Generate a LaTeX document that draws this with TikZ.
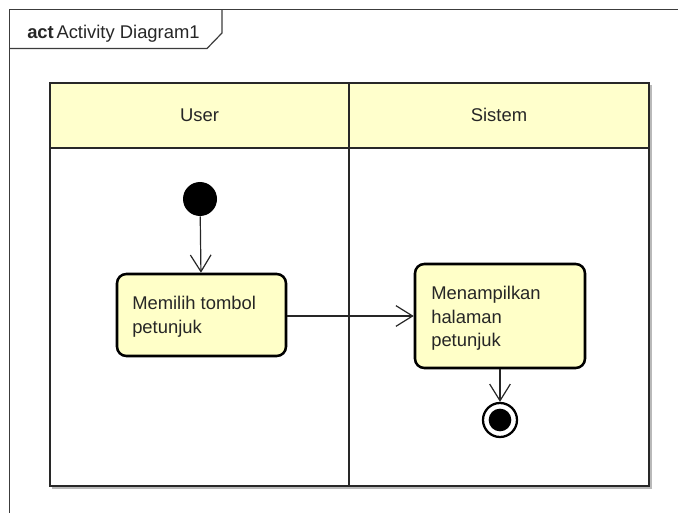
\documentclass[tikz,border=0pt]{standalone}
\usepackage{fontspec}
\setmainfont{Liberation Sans}
\usetikzlibrary{arrows.meta}
\definecolor{lanefill}{RGB}{255,255,204}
\definecolor{actfill}{RGB}{255,255,200}
\definecolor{framecol}{RGB}{60,60,60}
\definecolor{lanecol}{RGB}{40,40,40}
\begin{document}
\begin{tikzpicture}[x=0.75pt,y=-0.75pt,
  font=\fontsize{13.8pt}{17.75pt}\selectfont,
  frameline/.style={draw=framecol, line width=0.9pt},
  laneline/.style={draw=lanecol, line width=0.9pt},
  action/.style={draw=black, fill=actfill, line width=1.9pt, rounded corners=7pt, inner sep=0pt},
  actlabel/.style={anchor=west, align=left, inner sep=0pt, text=black!85},
  flow/.style={draw=black!85, line width=0.9pt, -{Straight Barb[length=12.5pt,width=15.5pt,line width=0.9pt]}},
  initnode/.style={circle, fill=black, minimum size=25.5pt, inner sep=0pt},
]
\useasboundingbox (0,0) rectangle (678,513);
\clip (0,0) rectangle (678,513);

% diagram frame and its name tab
\draw[frameline] (9.5,600) -- (9.5,9.5) -- (700,9.5);
\draw[frameline] (9.5,48.5) -- (207,48.5) -- (222,33) -- (222,9.5);
\node[anchor=base west, inner sep=0pt, text=black!85] (title) at (27,38.5) {\textbf{act}\hspace{2pt}Activity Diagram1};

% swimlanes
\draw[gray!55, line width=1.4pt] (52,488) -- (651,488) -- (651,85);
\fill[lanefill] (50,83) rectangle (649,148);
\draw[laneline] (50,83) rectangle (649,486);
\draw[laneline] (50,148) -- (649,148);
\draw[laneline] (349,83) -- (349,486);
\node[text=black!85] (huser) at (199.5,115) {User};
\node[text=black!85] (hsys) at (499,115) {Sistem};

% activity nodes
\node[initnode] (start) at (200,199) {};
\node[action, minimum width=126.75pt, minimum height=61.5pt] (a1) at (201.5,315) {};
\node[actlabel] (a1t) at (132,317) {Memilih tombol\\petunjuk};
\node[action, minimum width=127.5pt, minimum height=78pt] (a2) at (500,316) {};
\node[actlabel] (a2t) at (431,318.5) {Menampilkan\\halaman\\petunjuk};
\node[circle, draw=black, fill=white, line width=1.7pt, minimum size=25.5pt, inner sep=0pt] (final) at (500,420) {};
\node[circle, fill=black, minimum size=17pt, inner sep=0pt] (finalin) at (500,420) {};

% control flows
\draw[flow] (start) -- (a1);
\draw[flow] (a1.east |- 0,316) -- (a2.west |- 0,316);
\draw[flow] (a2) -- (final);
\end{tikzpicture}
\end{document}
